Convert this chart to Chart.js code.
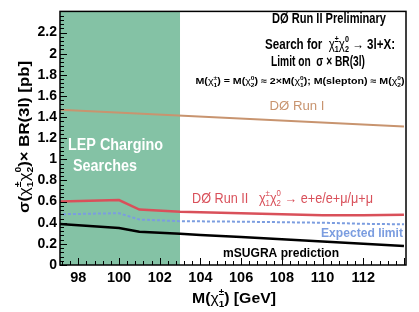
<!DOCTYPE html>
<html><head><meta charset="utf-8">
<script src="https://cdn.jsdelivr.net/npm/chart.js@4/dist/chart.umd.min.js"></script>
<style>html,body{margin:0;padding:0;background:#fff;}#wrap{width:419px;height:312px;position:relative;}</style>
</head><body><div id="wrap"><canvas id="c" width="419" height="312"></canvas></div>
<script>
// ---- data ----
const masses   = [97, 100, 101, 103, 104, 106, 110, 112, 114];
const runII    = [0.60, 0.615, 0.525, 0.505, 0.50, 0.49, 0.47, 0.47, 0.475];
const expected = [0.48, 0.49, 0.43, 0.415, 0.413, 0.41, 0.40, 0.39, 0.385];
const msugra   = [0.39, 0.35, 0.315, 0.295, 0.285, 0.264, 0.222, 0.201, 0.18];
const runIMass = [97, 114];
const runI     = [1.47, 1.31];
const lepMass  = [97, 103];
const lepTop   = [2.4, 2.4];
const xTicks   = [98, 100, 102, 104, 106, 108, 110, 112];
const yTicks   = [0, 0.2, 0.4, 0.6, 0.8, 1, 1.2, 1.4, 1.6, 1.8, 2, 2.2];

const FONT = "'Liberation Sans', Arial, sans-serif";
const GREEN = '#84c2a5', TAN = '#c8946f', RED = '#d9505a', BLUE = '#7b9de0';

const pts = (xs, ys) => xs.map((x, i) => ({x, y: ys[i]}));

function measureRich(ctx, parts, size, weight) {
  let w = 0;
  for (const p of parts) {
    if (typeof p === 'string') { ctx.font = `${weight} ${size}px ${FONT}`; w += ctx.measureText(p).width; }
    else {
      ctx.font = `normal ${size}px ${FONT}`; w += ctx.measureText(p.b).width;
      ctx.font = `${weight} ${size*0.62}px ${FONT}`;
      w += Math.max(ctx.measureText(p.sup||'').width, ctx.measureText(p.sub||'').width);
    }
  }
  return w;
}
function drawRich(ctx, parts, o) {
  const size = o.size; const weight = o.bold ? 'bold' : 'normal';
  const w = measureRich(ctx, parts, size, weight);
  const sx = o.width ? o.width / w : 1;
  const tw = w * sx;
  const x0 = o.align === 'left' ? o.x : o.x - tw/2;
  ctx.save(); ctx.translate(x0, o.y); ctx.scale(sx, 1);
  ctx.fillStyle = o.color || '#000'; ctx.textBaseline = 'middle'; ctx.textAlign = 'left';
  let x = 0;
  for (const p of parts) {
    if (typeof p === 'string') { ctx.font = `${weight} ${size}px ${FONT}`; ctx.fillText(p, x, 0); x += ctx.measureText(p).width; }
    else {
      ctx.font = `normal ${size}px ${FONT}`; ctx.fillText(p.b, x, 0); x += ctx.measureText(p.b).width;
      ctx.font = `${weight} ${size*0.62}px ${FONT}`;
      if (p.sup) ctx.fillText(p.sup, x, -size*0.42);
      if (p.sub) ctx.fillText(p.sub, x, size*0.36);
      x += Math.max(ctx.measureText(p.sup||'').width, ctx.measureText(p.sub||'').width);
    }
  }
  ctx.restore();
}

const chi = (sup, sub) => ({b: 'χ', sup, sub});

const decor = {
  id: 'decor',
  afterDatasetsDraw(chart) {
    const ctx = chart.ctx, a = chart.chartArea, xs = chart.scales.x, ys = chart.scales.y;
    ctx.save();
    ctx.strokeStyle = '#000'; ctx.lineWidth = 1;
    for (let i = 0; i <= 60; i++) {
      const py = Math.round(ys.getPixelForValue(i*0.04)) + 0.5;
      const len = i % 5 === 0 ? 7 : 4;
      ctx.beginPath(); ctx.moveTo(a.left, py); ctx.lineTo(a.left + len, py); ctx.stroke();
    }
    for (let k = -2; k <= 40; k++) {
      const px = Math.round(xs.getPixelForValue(98 + k*0.4)) + 0.5;
      const len = k % 5 === 0 ? 7 : 4;
      ctx.beginPath(); ctx.moveTo(px, a.bottom); ctx.lineTo(px, a.bottom - len); ctx.stroke();
    }
    ctx.lineWidth = 1.5;
    ctx.strokeRect(a.left, a.top, a.right - a.left, a.bottom - a.top);
    ctx.restore();

    drawRich(ctx, ['DØ Run II Preliminary'], {x: 329, y: 19, size: 15.5, bold: true, width: 114});
    drawRich(ctx, ['Search for  ', chi('±','1'), chi('0','2'), ' → 3l+X:'], {x: 330, y: 45, size: 14, bold: true, width: 130});
    drawRich(ctx, ['Limit on  σ × BR(3l)'], {x: 318, y: 62, size: 14.5, bold: true, width: 94});
    drawRich(ctx, ['M(', chi('±','1'), ') = M(', chi('0','2'), ') ≈ 2×M(', chi('0','1'), '); M(slepton) ≈ M(', chi('0','2'), ')'],
      {x: 300, y: 82, size: 9, bold: true, width: 209});
    drawRich(ctx, ['DØ Run I'], {x: 297, y: 107, size: 12, bold: false, color: TAN, width: 55});
    drawRich(ctx, ['LEP Chargino'], {x: 68, y: 146, size: 16, bold: true, color: '#fff', align: 'left', width: 95});
    drawRich(ctx, ['Searches'], {x: 73, y: 167, size: 16, bold: true, color: '#fff', align: 'left', width: 64});
    drawRich(ctx, ['DØ Run II   ', chi('±','1'), chi('0','2'), ' → e+e/e+μ/μ+μ'], {x: 192, y: 199, size: 14, bold: false, color: RED, align: 'left', width: 181});
    drawRich(ctx, ['Expected limit'], {x: 321, y: 233, size: 13.5, bold: true, color: BLUE, align: 'left', width: 82});
    drawRich(ctx, ['mSUGRA prediction'], {x: 223, y: 253, size: 13.5, bold: true, align: 'left', width: 116});
    drawRich(ctx, ['M(', chi('±','1'), ') [GeV]'], {x: 234, y: 299, size: 15, bold: true, width: 84});
    ctx.save(); ctx.translate(25, 137); ctx.rotate(-Math.PI/2);
    drawRich(ctx, ['σ(', chi('±','1'), chi('0','2'), ')× BR(3l) [pb]'], {x: 0, y: 0, size: 15, bold: true, width: 152});
    ctx.restore();
  }
};

new Chart(document.getElementById('c'), {
  type: 'line',
  data: {
    datasets: [
      {data: pts(runIMass, runI), borderColor: TAN, borderWidth: 2, pointRadius: 0, order: 1},
      {data: pts(masses, runII), borderColor: RED, borderWidth: 2.5, pointRadius: 0, order: 2},
      {data: pts(masses, expected), borderColor: BLUE, borderWidth: 2, borderDash: [3, 2], pointRadius: 0, order: 3},
      {data: pts(masses, msugra), borderColor: '#000', borderWidth: 2.5, pointRadius: 0, order: 4},
      {data: pts(lepMass, lepTop), borderWidth: 0, borderColor: GREEN, backgroundColor: GREEN, fill: 'start', pointRadius: 0, order: 10}
    ]
  },
  options: {
    responsive: false, animation: false, devicePixelRatio: 1,
    layout: {padding: {left: 0, right: 13, top: 5, bottom: 0}},
    plugins: {legend: {display: false}, tooltip: {enabled: false}},
    scales: {
      x: {type: 'linear', min: 97.1, max: 114.1,
        afterBuildTicks: s => { s.ticks = xTicks.map(v => ({value: v})); },
        afterFit: s => { s.height = 47; },
        grid: {display: false, drawTicks: false}, border: {display: false},
        ticks: {padding: 4, color: '#000', font: {family: FONT, size: 14.5, weight: 'bold'}, maxRotation: 0}
      },
      y: {type: 'linear', min: 0, max: 2.4,
        afterBuildTicks: s => { s.ticks = yTicks.map(v => ({value: v})); },
        afterFit: s => { s.width = 60; },
        grid: {display: false, drawTicks: false}, border: {display: false},
        ticks: {padding: 3, color: '#000', font: {family: FONT, size: 14, weight: 'bold'},
          callback: v => String(Math.round(v*10)/10)}
      }
    }
  },
  plugins: [decor]
});
</script></body></html>
